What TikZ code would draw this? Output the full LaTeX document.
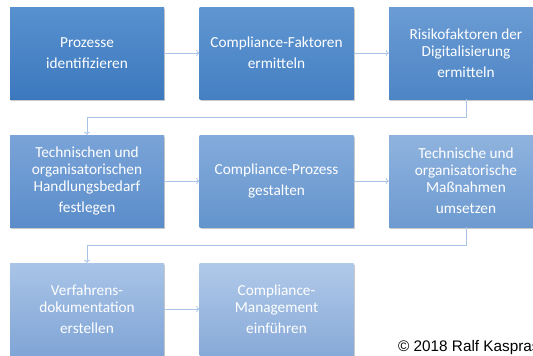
\documentclass[tikz,border=0pt]{standalone}
\usepackage{fontspec}
\setmainfont{Carlito}
\newfontfamily\copyfont{Liberation Sans}
\usetikzlibrary{shadows,arrows.meta}
\definecolor{linkc}{HTML}{A9C4E6}
\tikzset{
  stepbox/.style args={#1/#2}{rectangle, minimum width=154pt, minimum height=92pt,
    inner sep=0pt, top color=#1, bottom color=#2, draw=none, text=white,
    align=center, font=\fontsize{15.3}{16.8}\selectfont,
    drop shadow={shadow xshift=1pt, shadow yshift=-1.5pt, opacity=0.35, fill=black!60}},
  link/.style={draw=linkc, line width=0.8pt, -{To[length=3pt,width=6pt]}},
}
\begin{document}
\begin{tikzpicture}[x=1pt,y=-1pt]
\path[use as bounding box] (0,0) rectangle (533,356);
\clip (0,0) rectangle (533,356);
\fill[white] (0,0) rectangle (533,356);
\definecolor{t1}{HTML}{5891CF}\definecolor{b1}{HTML}{3C78BE}
\definecolor{t2}{HTML}{6096D1}\definecolor{b2}{HTML}{4580C3}
\definecolor{t3}{HTML}{6B9CD4}\definecolor{b3}{HTML}{4D85C5}
\definecolor{t4}{HTML}{7AA4D8}\definecolor{b4}{HTML}{5B8DCA}
\definecolor{t5}{HTML}{84ACDB}\definecolor{b5}{HTML}{6494CD}
\definecolor{t6}{HTML}{8FB3DE}\definecolor{b6}{HTML}{6D9AD0}
\definecolor{t7}{HTML}{A9C4E7}\definecolor{b7}{HTML}{80A5D6}
\definecolor{t8}{HTML}{B0C9E9}\definecolor{b8}{HTML}{88AAD8}

\node[stepbox=t1/b1] (p1) at (87,53) {Prozesse\\[4.5pt]identifizieren};
\node[stepbox=t2/b2] (p2) at (276.5,53) {Compliance-Faktoren\\[4.5pt]ermitteln};
\node[stepbox=t3/b3] (p3) at (466,53) {Risikofaktoren der\\Digitalisierung\\[4.5pt]ermitteln};

\node[stepbox=t4/b4] (p4) at (87,181) {Technischen und\\organisatorischen\\Handlungsbedarf\\[4.5pt]festlegen};
\node[stepbox=t5/b5] (p5) at (276.5,181) {Compliance-Prozess\\[4.5pt]gestalten};
\node[stepbox=t6/b6] (p6) at (466,181) {Technische und\\organisatorische\\Maßnahmen\\[4.5pt]umsetzen};

\node[stepbox=t7/b7] (p7) at (87,309) {Verfahrens-\\dokumentation\\[4.5pt]erstellen};
\node[stepbox=t8/b8] (p8) at (276.5,309) {Compliance-\\Management\\[4.5pt]einführen};

\draw[link] (p1) -- (p2);
\draw[link] (p2) -- (p3);
\draw[link] (p4) -- (p5);
\draw[link] (p5) -- (p6);
\draw[link] (p7) -- (p8);

\coordinate (r1a) at (466,117);
\coordinate (r1b) at (87,117);
\draw[link] (p3.south) -- (r1a) -- (r1b) -- (p4.north);
\coordinate (r2a) at (466,245);
\coordinate (r2b) at (87,245);
\draw[link] (p6.south) -- (r2a) -- (r2b) -- (p7.north);

\node[anchor=base west, font=\copyfont\fontsize{15.3}{17}\selectfont, inner sep=0pt] (copy) at (398,351) {© 2018 Ralf Kaspras};
\end{tikzpicture}
\end{document}
